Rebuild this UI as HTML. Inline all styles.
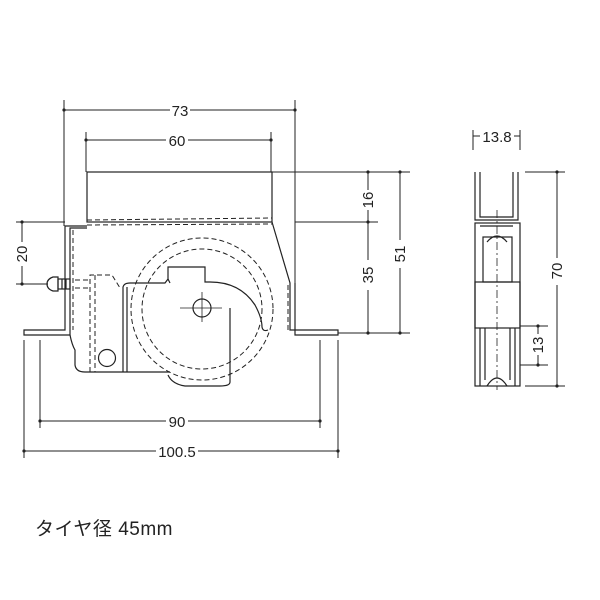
<!DOCTYPE html>
<html><head><meta charset="utf-8"><style>
html,body{margin:0;padding:0;background:#fff}
svg{display:block}
text{font-family:"Liberation Sans","Noto Sans CJK JP",sans-serif;fill:#222}
</style></head><body>
<svg width="600" height="600" viewBox="0 0 600 600" xmlns="http://www.w3.org/2000/svg">
<g stroke="#222" stroke-width="1.2" fill="none">
<g stroke-width="1">
<line x1="64" y1="100" x2="64" y2="226"/><line x1="295" y1="100" x2="295" y2="283"/>
<line x1="64" y1="110" x2="170" y2="110"/><line x1="190" y1="110" x2="295" y2="110"/>
<line x1="86" y1="132" x2="86" y2="172"/><line x1="271" y1="132" x2="271" y2="172"/>
<line x1="86" y1="140" x2="166" y2="140"/><line x1="188" y1="140" x2="271" y2="140"/>
<line x1="40" y1="340" x2="40" y2="428"/><line x1="320" y1="340" x2="320" y2="428"/>
<line x1="40" y1="421" x2="166" y2="421"/><line x1="188" y1="421" x2="320" y2="421"/>
<line x1="24" y1="340" x2="24" y2="458"/><line x1="338" y1="340" x2="338" y2="458"/>
<line x1="24" y1="451" x2="156" y2="451"/><line x1="198" y1="451" x2="338" y2="451"/>
<line x1="272" y1="172" x2="410" y2="172"/><line x1="295" y1="222" x2="378" y2="222"/>
<line x1="338" y1="333" x2="410" y2="333"/>
<line x1="368" y1="172" x2="368" y2="190"/><line x1="368" y1="210" x2="368" y2="260"/><line x1="368" y1="290" x2="368" y2="333"/>
<line x1="400" y1="172" x2="400" y2="240"/><line x1="400" y1="268" x2="400" y2="333"/>
<line x1="16" y1="222" x2="65" y2="222"/><line x1="16" y1="284" x2="48" y2="284"/>
<line x1="22" y1="222" x2="22" y2="242"/><line x1="22" y1="266" x2="22" y2="284"/>
<line x1="473" y1="130" x2="473" y2="150"/><line x1="520" y1="130" x2="520" y2="150"/>
<line x1="473" y1="136" x2="480" y2="136"/><line x1="514" y1="136" x2="520" y2="136"/>
<line x1="525" y1="172" x2="565" y2="172"/><line x1="525" y1="386" x2="565" y2="386"/>
<line x1="557" y1="172" x2="557" y2="258"/><line x1="557" y1="285" x2="557" y2="386"/>
<line x1="520" y1="326" x2="548" y2="326"/><line x1="520" y1="365" x2="548" y2="365"/>
<line x1="538" y1="326" x2="538" y2="334"/><line x1="538" y1="355" x2="538" y2="365"/>
</g>
<g fill="#222" stroke="none">
<circle cx="64" cy="110" r="1.6"/><circle cx="295" cy="110" r="1.6"/><circle cx="86" cy="140" r="1.6"/><circle cx="271" cy="140" r="1.6"/>
<circle cx="40" cy="421" r="1.6"/><circle cx="320" cy="421" r="1.6"/><circle cx="24" cy="451" r="1.6"/><circle cx="338" cy="451" r="1.6"/>
<circle cx="368" cy="172" r="1.6"/><circle cx="368" cy="222" r="1.6"/><circle cx="368" cy="333" r="1.6"/><circle cx="400" cy="172" r="1.6"/><circle cx="400" cy="333" r="1.6"/>
<circle cx="22" cy="222" r="1.6"/><circle cx="22" cy="284" r="1.6"/>
<circle cx="557" cy="172" r="1.6"/><circle cx="557" cy="386" r="1.6"/><circle cx="538" cy="326" r="1.6"/><circle cx="538" cy="365" r="1.6"/>
</g>
<rect x="87" y="172" width="185" height="50"/>
<path d="M87 226 L65 226 L65 330 L24 330 L24 335 L70 335 L70 228 L87 228"/>
<path d="M272 222 L290 283 L290 330 L338 330 L338 335 L295 335 L295 283"/>
<path d="M70 335 Q72 345 75 350 L75 365 Q76 372 85 372 L170 372"/>
<path d="M123 372 L123 287 Q124 283 130 283 L165 283 L168 279 L168 267 L205 267 L205 282 L210 282 Q240 282 255 305 Q262 318 262 327 Q263 332 268 330"/>
<path d="M168 279 L170 283"/>
<path d="M230 308 L230 382 Q230 386 220 386 L185 386 Q172 384 168 375"/>
<path d="M127 287 L127 372"/>
<g stroke-dasharray="5 3" stroke-width="1">
<line x1="87" y1="220" x2="272" y2="218"/><line x1="87" y1="225" x2="272" y2="224"/>
<line x1="73" y1="230" x2="73" y2="330"/><line x1="288" y1="285" x2="288" y2="330"/>
<circle cx="202" cy="309" r="71"/><circle cx="202" cy="309" r="60"/>
<path d="M90 372 L90 275 L112 275 L120 288"/><line x1="95" y1="275" x2="95" y2="372"/>
<line x1="75" y1="280" x2="90" y2="280"/><line x1="75" y1="288" x2="90" y2="288"/>
</g>
<circle cx="202" cy="308" r="9"/>
<line x1="180" y1="308" x2="222" y2="308" stroke-width="0.8"/><line x1="202" y1="292" x2="202" y2="322" stroke-width="0.8"/>
<circle cx="107" cy="358" r="8.5"/>
<path d="M53 277 Q47 279 47 284 Q47 289 53 291 L58 291 L58 277 Z"/>
<rect x="58" y="279" width="12" height="10"/>
<line x1="62" y1="279" x2="62" y2="289"/><line x1="66" y1="279" x2="66" y2="289"/>
<path d="M475 172 L475 220 L518 220 L518 172 M480 172 L480 217 L513 217 L513 172"/>
<rect x="475" y="223" width="45" height="163"/>
<path d="M480 226 L513 226"/>
<rect x="483" y="237" width="29" height="45"/>
<path d="M487 242 Q497 230 507 242"/>
<rect x="475" y="282" width="45" height="46"/>
<path d="M480 328 L480 386 M485 328 L485 380 M510 328 L510 380 M515 328 L515 386"/>
<path d="M487 386 Q497 370 507 386"/>
<line x1="497" y1="210" x2="497" y2="390" stroke-dasharray="8 3 2 3" stroke-width="0.8"/>
</g>
<g font-size="15">
<text x="180" y="116" text-anchor="middle">73</text>
<text x="177" y="146" text-anchor="middle">60</text>
<text x="177" y="427" text-anchor="middle">90</text>
<text x="177" y="457" text-anchor="middle">100.5</text>
<text x="497" y="142" text-anchor="middle">13.8</text>
<text transform="translate(373,200) rotate(-90)" text-anchor="middle">16</text>
<text transform="translate(373,275) rotate(-90)" text-anchor="middle">35</text>
<text transform="translate(405,254) rotate(-90)" text-anchor="middle">51</text>
<text transform="translate(27,254) rotate(-90)" text-anchor="middle">20</text>
<text transform="translate(562,271) rotate(-90)" text-anchor="middle">70</text>
<text transform="translate(543,345) rotate(-90)" text-anchor="middle">13</text>
</g>
<text x="35" y="535" font-size="19" letter-spacing="0.5">タイヤ径 45mm</text>
</svg>
</body></html>
